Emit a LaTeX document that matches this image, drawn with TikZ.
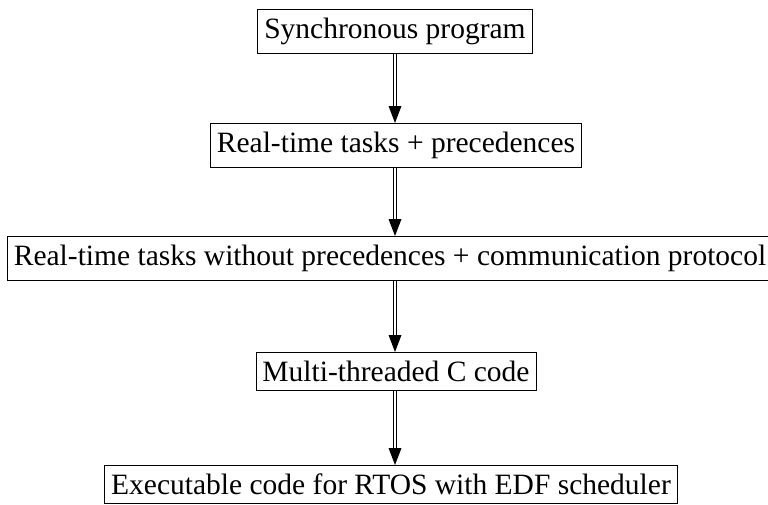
\documentclass[tikz,border=0pt]{standalone}
\usepackage{fontspec}
\setmainfont{Liberation Serif}
\tikzset{
  stage/.style={draw, line width=0.9pt, inner xsep=6.5pt, inner ysep=8.5pt, anchor=north,
    font=\fontsize{29.5}{34}\selectfont},
  dblline/.style={double, double distance=2.4pt, line width=0.9pt},
  tiphead/.style={fill=black}
}
\begin{document}
\begin{tikzpicture}[x=1pt,y=1pt]
\useasboundingbox (0,0) rectangle (768,-504);
\node[stage] (a) at (395,-9) {Synchronous program};
\node[stage] (b) at (396,-123) {Real-time tasks + precedences};
\node[stage] (c) at (390,-236) {Real-time tasks without precedences + communication protocol};
\node[stage] (d) at (396,-352) {Multi-threaded C code};
\node[stage] (e) at (391,-465) {Executable code for RTOS with EDF scheduler};
\foreach \s/\t in {a/b, b/c, c/d, d/e}{
  \coordinate (\s tip) at (395, 0 |- \t.north);
  \draw[dblline] (395, 0 |- \s.south) -- ([yshift=15pt]\s tip);
  \fill[tiphead] (\s tip) -- ++(-6.5,17) -- ++(13,0) -- cycle;
}
\end{tikzpicture}
\end{document}
